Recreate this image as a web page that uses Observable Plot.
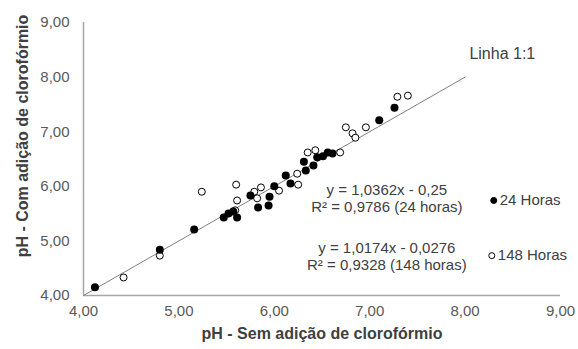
<!DOCTYPE html>
<html><head><meta charset="utf-8">
<script src="https://cdn.jsdelivr.net/npm/d3@7"></script>
<script src="https://cdn.jsdelivr.net/npm/@observablehq/plot@0.6"></script>
<style>
body{margin:0;background:#fff}
svg{font-family:"Liberation Sans",Arial,sans-serif}
</style>
</head><body><div id="chart"></div>
<script>
// 24 Horas (filled)
const x24 = [4.12, 4.80, 5.16, 5.47, 5.52, 5.57, 5.61, 5.75, 5.83, 5.94, 5.95, 6.00, 6.12, 6.17, 6.31, 6.33, 6.41, 6.45, 6.51, 6.56, 6.61, 7.10, 7.26];
const y24 = [4.15, 4.84, 5.21, 5.43, 5.50, 5.54, 5.43, 5.83, 5.61, 5.65, 5.81, 6.00, 6.20, 6.05, 6.45, 6.29, 6.38, 6.53, 6.55, 6.62, 6.60, 7.21, 7.44];
// 148 Horas (open)
const x148 = [4.42, 4.80, 5.24, 5.60, 5.61, 5.59, 5.79, 5.86, 5.82, 6.05, 6.24, 6.25, 6.35, 6.43, 6.69, 6.75, 6.82, 6.85, 6.96, 7.29, 7.40];
const y148 = [4.33, 4.73, 5.90, 6.03, 5.74, 5.56, 5.90, 5.98, 5.78, 5.92, 6.23, 6.03, 6.62, 6.66, 6.62, 7.08, 6.97, 6.89, 7.08, 7.64, 7.66];
const ticks = [4, 5, 6, 7, 8, 9];
const lineEnds = [4, 8];
const seriesLabels = ["24 Horas", "148 Horas"];
const equations = ["y = 1,0362x - 0,25\nR² = 0,9786 (24 horas)", "y = 1,0174x - 0,0276\nR² = 0,9328 (148 horas)"];
const xTitle = "pH - Sem adição de clorofórmio";
const yTitle = "pH - Com adição de clorofórmio";
const lineLabel = "Linha 1:1";

const d24 = x24.map((v, i) => ({x: v, y: y24[i]}));
const d148 = x148.map((v, i) => ({x: v, y: y148[i]}));
const line = lineEnds.map(v => ({x: v, y: v}));
const loc = d3.formatLocale({decimal: ",", thousands: ".", grouping: [3], currency: ["", ""]});
const fmt = loc.format(".2f");

// annotation anchors (data coordinates)
const legend = [
  {x: 8.30, y: 5.74, label: seriesLabels[0], fill: "#000"},
  {x: 8.28, y: 4.73, label: seriesLabels[1], fill: "#fff"}
];
const eqs = [
  {x: 7.18, y: 5.78, label: equations[0]},
  {x: 7.18, y: 4.72, label: equations[1]}
];

const chart = Plot.plot({
  width: 578, height: 349,
  marginLeft: 83, marginRight: 18, marginTop: 22, marginBottom: 54,
  x: {domain: [4, 9]},
  y: {domain: [4, 9]},
  style: {fontFamily: "'Liberation Sans', Arial, sans-serif", fontSize: "15px", background: "#fff"},
  marks: [
    Plot.ruleY([4], {x1: 4, x2: 9, stroke: "#a6a6a6", strokeWidth: 1.5}),
    Plot.ruleX([4], {y1: 4, y2: 9, stroke: "#a6a6a6", strokeWidth: 1.5}),
    Plot.line(line, {x: "x", y: "y", stroke: "#808080", strokeWidth: 1}),
    Plot.dot(d148, {x: "x", y: "y", r: 3.5, stroke: "#000", fill: "#fff", strokeWidth: 1}),
    Plot.dot(d24, {x: "x", y: "y", r: 4, fill: "#000", stroke: "none"}),
    Plot.axisX(ticks, {tickSize: 0, tickPadding: 10, tickFormat: fmt, fill: "#595959", fontSize: 15, label: null}),
    Plot.axisY(ticks, {tickSize: 0, tickPadding: 14, tickFormat: fmt, fill: "#595959", fontSize: 15, label: null}),
    Plot.text([xTitle], {frameAnchor: "bottom", dy: 43, text: d => d, fontWeight: "bold", fontSize: 16, fill: "#404040"}),
    Plot.text([yTitle], {frameAnchor: "left", textAnchor: "middle", dx: -61, dy: -23, rotate: -90, text: d => d, fontWeight: "bold", fontSize: 16, fill: "#404040"}),
    Plot.text([lineLabel], {x: [8.39], y: [8.43], text: d => d, fontSize: 16, fill: "#404040"}),
    Plot.text(eqs, {x: "x", y: "y", text: "label", fontSize: 15, fill: "#404040", lineHeight: 1.15}),
    Plot.dot(legend, {x: "x", y: "y", r: 3, fill: "fill", stroke: "#000", strokeWidth: 1}),
    Plot.text(legend, {x: "x", y: "y", text: "label", textAnchor: "start", dx: 6, fontSize: 15, fill: "#404040"})
  ]
});
document.getElementById("chart").append(chart);
</script>
</body></html>
